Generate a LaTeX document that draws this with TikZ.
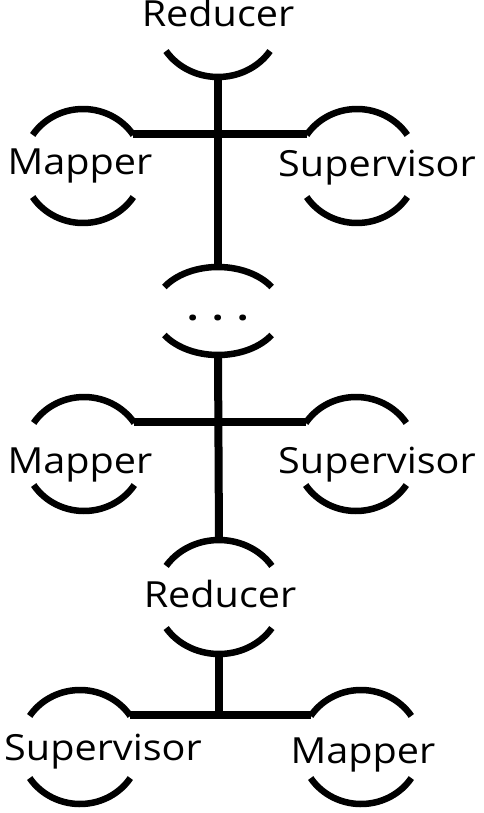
\documentclass[tikz,border=0pt]{standalone}
\usepackage{fontspec}
\usepackage{tikz}
\usetikzlibrary{shapes.geometric}
\newfontfamily\rolefont[FakeStretch=1.1]{Open Sans}
\tikzstyle{ring}=[shape=ellipse, minimum width=120pt, minimum height=114pt, inner sep=0pt, outer sep=0pt]
\tikzstyle{flat ring}=[ring, minimum width=128pt, minimum height=88pt]
\tikzstyle{role}=[font=\rolefont\fontsize{36pt}{40pt}\selectfont, anchor=base, inner sep=0pt]
\tikzstyle{dots}=[role, font=\rolefont\bfseries\fontsize{36pt}{40pt}\selectfont]
\tikzstyle{edge}=[line width=8pt]
\tikzstyle{cup}=[line width=6.5pt]
% upper and lower half of a ring: node, x radius, y radius
\newcommand{\cups}[3]{%
  \draw [style=cup] ([shift={(33:#2 and #3)}]#1.center) arc [start angle=33, end angle=147, x radius=#2, y radius=#3];
  \draw [style=cup] ([shift={(213:#2 and #3)}]#1.center) arc [start angle=213, end angle=327, x radius=#2, y radius=#3];
}
\pgfdeclarelayer{nodelayer}
\pgfdeclarelayer{edgelayer}
\pgfsetlayers{edgelayer,nodelayer,main}

\begin{document}
\begin{tikzpicture}[x=1pt, y=1pt]
	\useasboundingbox (0, 0) rectangle (483, -813);
	\begin{pgfonlayer}{nodelayer}
		\node [style=ring] (0) at (218, -20) {};
		\node [style=ring] (1) at (83, -166) {};
		\node [style=ring] (2) at (357, -166) {};
		\node [style=flat ring] (3) at (218, -311) {};
		\node [style=ring] (4) at (84, -454) {};
		\node [style=ring] (5) at (356, -454) {};
		\node [style=ring] (6) at (219, -597) {};
		\node [style=ring] (7) at (80, -747) {};
		\node [style=ring] (8) at (361, -747) {};
		\node [style=role] (9) at (218, -27) {Reducer};
		\node [style=role] (10) at (80, -175) {Mapper};
		\node [style=role] (11) at (377, -176) {Supervisor};
		\node [style=dots] (12) at (218, -320) {. . .};
		\node [style=role] (13) at (80, -473) {Mapper};
		\node [style=role] (14) at (377, -473) {Supervisor};
		\node [style=role] (15) at (220, -607) {Reducer};
		\node [style=role] (16) at (103, -760) {Supervisor};
		\node [style=role] (17) at (363, -763) {Mapper};
		\cups{0}{62pt}{57pt}
		\cups{1}{60pt}{57pt}
		\cups{2}{60pt}{57pt}
		\cups{3}{64pt}{44pt}
		\cups{4}{60pt}{57pt}
		\cups{5}{60pt}{57pt}
		\cups{6}{63pt}{57pt}
		\cups{7}{60pt}{57pt}
		\cups{8}{60pt}{57pt}
	\end{pgfonlayer}
	\begin{pgfonlayer}{edgelayer}
		\draw [style=edge] (0.south) to (3.north);
		\draw [style=edge] (1.33) to (2.147);
		\draw [style=edge] (3.south) to (6.north);
		\draw [style=edge] (4.33) to (5.147);
		\draw [style=edge] (6.south) |- (7.33);
		\draw [style=edge] (6.south) |- (8.147);
	\end{pgfonlayer}
\end{tikzpicture}
\end{document}
